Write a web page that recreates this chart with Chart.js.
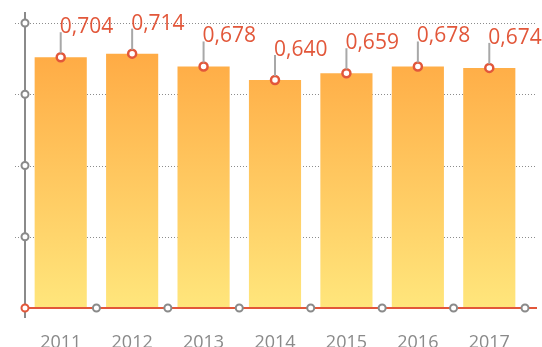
<!DOCTYPE html>
<html>
<head>
<meta charset="utf-8">
<script src="https://cdn.jsdelivr.net/npm/chart.js@4"></script>
<style>
  html, body { margin: 0; padding: 0; background: #fff; }
  #wrap { width: 542px; height: 347px; }
</style>
</head>
<body>
<div id="wrap"><canvas id="myChart" width="542" height="347"></canvas></div>
<script>
//Years on the x axis and the index value for each of them
const years = ['2011', '2012', '2013', '2014', '2015', '2016', '2017'];
const values = [0.704, 0.714, 0.678, 0.640, 0.659, 0.678, 0.674];
//y axis goes 0 -> 0.8 in steps of 0.2 (no labels drawn, only the little circles)
const yMin = 0;
const yMax = 0.8;
const yStep = 0.2;

const RED = '#e2573a';
const GREY = '#8a8a8a';

//decimal comma like "0,704"
const fmt = v => v.toFixed(3).replace('.', ',');

function ring(ctx, x, y, r, stroke) {
    ctx.beginPath();
    ctx.arc(x, y, r, 0, Math.PI * 2);
    ctx.fillStyle = '#fff';
    ctx.fill();
    ctx.lineWidth = 2;
    ctx.strokeStyle = stroke;
    ctx.stroke();
}

//dotted grid lines behind the bars
const gridPlugin = {
    id: 'dottedGrid',
    beforeDatasetsDraw(chart) {
        const {ctx, scales: {y}, chartArea} = chart;
        ctx.save();
        ctx.strokeStyle = '#8c8c8c';
        ctx.lineWidth = 1;
        ctx.setLineDash([1, 2]);
        y.ticks.forEach(t => {
            if (t.value === 0) return;
            const py = Math.round(y.getPixelForValue(t.value)) + 0.5;
            ctx.beginPath();
            ctx.moveTo(chartArea.left - 10, py);
            ctx.lineTo(chartArea.right + 12, py);
            ctx.stroke();
        });
        ctx.restore();
    }
};

//axis lines, tick rings, leader lines and value labels on top
const overlayPlugin = {
    id: 'overlay',
    afterDatasetsDraw(chart) {
        const {ctx, scales: {x, y}, chartArea} = chart;
        const base = y.getPixelForValue(0);
        ctx.save();

        //vertical axis (grey)
        ctx.strokeStyle = GREY;
        ctx.lineWidth = 2;
        ctx.beginPath();
        ctx.moveTo(chartArea.left, chartArea.top - 11);
        ctx.lineTo(chartArea.left, base + 10);
        ctx.stroke();

        //horizontal axis (red)
        ctx.strokeStyle = RED;
        ctx.beginPath();
        ctx.moveTo(chartArea.left, base);
        ctx.lineTo(chartArea.right + 12, base);
        ctx.stroke();

        //rings on y ticks
        y.ticks.forEach(t => {
            if (t.value === 0) return;
            ring(ctx, chartArea.left, y.getPixelForValue(t.value), 3.5, GREY);
        });
        //rings on category boundaries
        const w = (chartArea.right - chartArea.left) / years.length;
        for (let i = 1; i <= years.length; i++) {
            ring(ctx, chartArea.left + i * w, base, 3.5, GREY);
        }
        ring(ctx, chartArea.left, base, 3.5, RED);

        //leader lines + labels
        const pts = chart.getDatasetMeta(1).data;
        ctx.font = '21px "Open Sans"';
        ctx.textAlign = 'left';
        ctx.textBaseline = 'alphabetic';
        pts.forEach((p, i) => {
            ctx.strokeStyle = '#a8a8a8';
            ctx.lineWidth = 2;
            ctx.beginPath();
            ctx.moveTo(p.x, p.y - 4);
            ctx.lineTo(p.x, p.y - 25);
            ctx.stroke();
            ctx.fillStyle = RED;
            ctx.fillText(fmt(values[i]), p.x - 1, p.y - 24);
        });
        ctx.restore();
    }
};

const ctx = document.getElementById('myChart');

const chart1 = new Chart(ctx, {
    data: {
        labels: years,
        datasets: [{
            type: 'bar',
            data: values,
            order: 2,
            barPercentage: 0.73,
            categoryPercentage: 1,
            backgroundColor: (c) => {
                const area = c.chart.chartArea;
                if (!area) return '#ffb347';
                const g = c.chart.ctx.createLinearGradient(0, area.top, 0, area.bottom);
                g.addColorStop(0, '#ffa43e');
                g.addColorStop(1, '#ffe67c');
                return g;
            }
        }, {
            type: 'line',
            data: values,
            order: 1,
            showLine: false,
            pointRadius: 4,
            pointBorderWidth: 2.5,
            pointBorderColor: RED,
            pointBackgroundColor: '#fff'
        }]
    },
    options: {
        responsive: false,
        animation: false,
        layout: {padding: {top: 23, right: 17, left: 0, bottom: 0}},
        plugins: {
            legend: {display: false},
            tooltip: {enabled: false}
        },
        scales: {
            x: {
                offset: true,
                grid: {display: false},
                border: {display: false},
                ticks: {
                    color: GREY,
                    font: {family: 'Open Sans', size: 18},
                    padding: 16
                },
                afterFit: (s) => { s.height = 39; }
            },
            y: {
                min: yMin,
                max: yMax,
                ticks: {stepSize: yStep, display: false},
                grid: {display: false},
                border: {display: false},
                afterFit: (s) => { s.width = 25; }
            }
        }
    },
    plugins: [gridPlugin, overlayPlugin]
});
</script>
</body>
</html>
